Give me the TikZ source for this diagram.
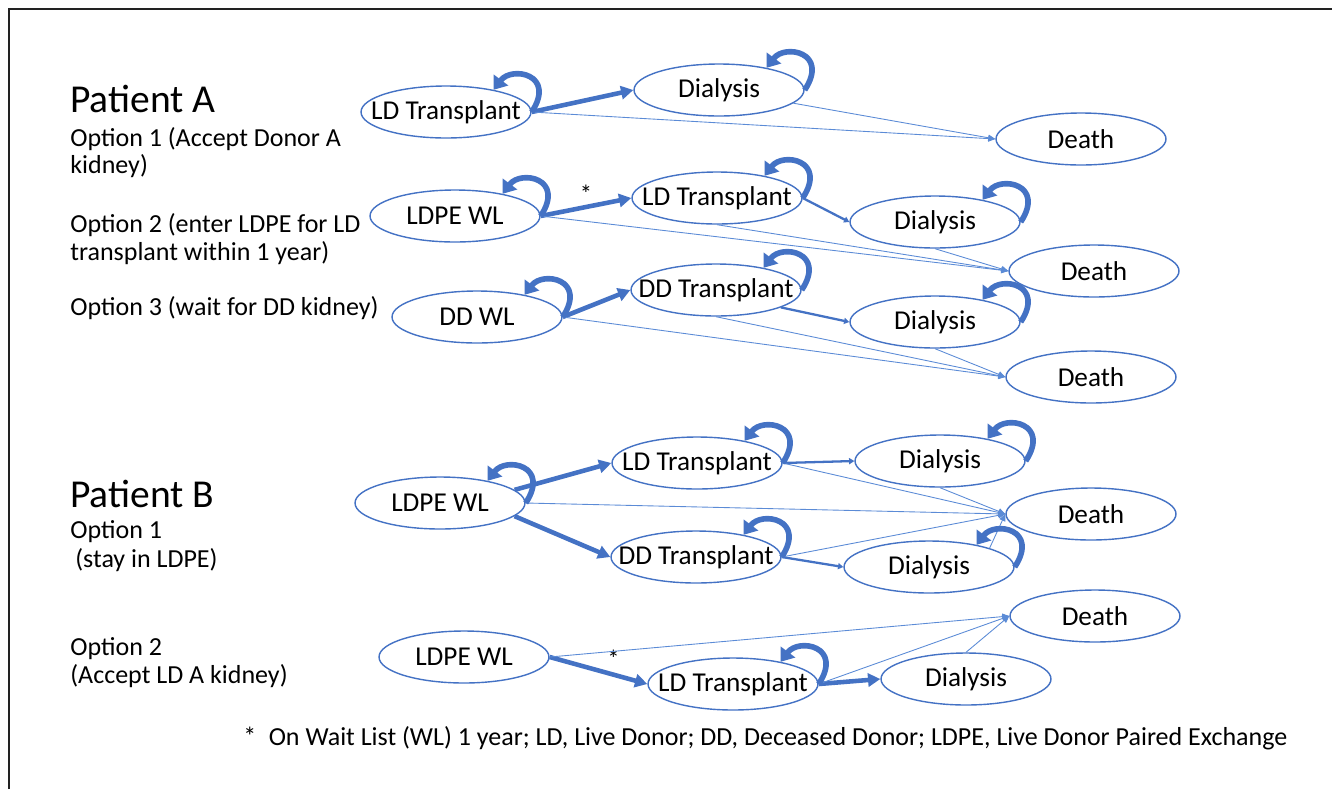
\documentclass[tikz,border=0pt]{standalone}
\usepackage{fontspec}
\setmainfont{Carlito}
\usetikzlibrary{arrows.meta,shapes.geometric}
\definecolor{nodeblue}{HTML}{4472C4}
\definecolor{flowblue}{HTML}{4472C4}
\definecolor{thinblue}{HTML}{5B8BD6}
\definecolor{framegray}{HTML}{222222}

\begin{document}
\begin{tikzpicture}[x=0.02cm,y=-0.02cm,
 stage/.style={ellipse,draw=nodeblue,line width=0.8pt,minimum width=3.4cm,minimum height=1.04cm,inner xsep=-0.35cm,inner ysep=0pt,font=\fontsize{15.5}{17}\selectfont},
 flow/.style={-{Triangle[length=7pt,width=7.5pt]},line width=2.6pt,color=flowblue},
 mid/.style={-{Triangle[length=3pt,width=3.5pt]},line width=1.3pt,color=flowblue},
 minor/.style={-{Triangle[length=4pt,width=3.5pt]},line width=0.5pt,color=thinblue},
 selfloop/.style={-{Triangle[length=7pt,width=10pt]},line width=3.2pt,color=flowblue},
 side/.style={anchor=base west,inner sep=0pt,font=\fontsize{14.8}{16}\selectfont},
 head/.style={anchor=base west,inner sep=0pt,font=\fontsize{22.5}{26}\selectfont},
 star/.style={font=\fontsize{14}{16}\selectfont,inner sep=1pt,text=black}]
 \useasboundingbox (0,0) rectangle (1332,789);
 \draw[framegray,line width=1.4pt] (9,789) -- (9,9) -- (1332,9);

 % left column
 \node[head] (pa) at (70,112) {Patient A};
 \node[side] (pa1a) at (70,146) {Option 1 (Accept Donor A};
 \node[side] (pa1b) at (70,173) {kidney)};
 \node[side] (pa2a) at (70,232) {Option 2 (enter LDPE for LD};
 \node[side] (pa2b) at (70,260) {transplant within 1 year)};
 \node[side] (pa3) at (70,315) {Option 3 (wait for DD kidney)};
 \node[head] (pb) at (70,507) {Patient B};
 \node[side] (pb1a) at (70,538) {Option 1};
 \node[side] (pb1b) at (75,567) {(stay in LDPE)};
 \node[side] (pb2a) at (70,655) {Option 2};
 \node[side] (pb2b) at (70,683) {(Accept LD A kidney)};

 % patient A, option 1
 \node[stage] (a1lt) at (446,112) {LD Transplant};
 \node[stage] (a1dia) at (719,90) {Dialysis};
 \node[stage] (a1death) at (1081,139) {Death};
 % patient A, option 2
 \node[stage] (a2wl) at (455,216) {LDPE WL};
 \node[stage] (a2lt) at (717,198) {LD Transplant};
 \node[stage] (a2dia) at (935,222) {Dialysis};
 \node[stage] (a2death) at (1094,271) {Death};
 % patient A, option 3
 \node[stage] (a3wl) at (477,317) {DD WL};
 \node[stage] (a3dt) at (716,290) {DD Transplant};
 \node[stage] (a3dia) at (935,322) {Dialysis};
 \node[stage] (a3death) at (1091,377) {Death};
 % patient B, option 1
 \node[stage] (b1wl) at (440,503) {LDPE WL};
 \node[stage] (b1lt) at (697,463) {LD Transplant};
 \node[stage] (b1dia) at (940,461) {Dialysis};
 \node[stage] (b1death) at (1091,514) {Death};
 \node[stage] (b1dt) at (696,557) {DD Transplant};
 \node[stage] (b1dia2) at (929,567) {Dialysis};
 % patient B, option 2
 \node[stage] (b2wl) at (464,657) {LDPE WL};
 \node[stage] (b2lt) at (733,684) {LD Transplant};
 \node[stage] (b2dia) at (966,679) {Dialysis};
 \node[stage] (b2death) at (1095,616) {Death};

 \draw[flow] (a1lt.east) -- (a1dia.west);
 \draw[minor] (a1lt.east) -- (a1death.west);
 \draw[minor] (a1dia) -- (a1death.west);

 \draw[flow] (a2wl.east) -- node[above,star] {*} (a2lt.west);
 \draw[minor] (a2wl.east) -- (a2death.west);
 \draw[mid] (a2lt.east) -- (a2dia.west);
 \draw[minor] (a2lt.south) -- (a2death.west);
 \draw[minor] (a2dia.south) -- (a2death.west);

 \draw[flow] (a3wl.east) -- (a3dt.west);
 \draw[minor] (a3wl.east) -- (a3death.west);
 \draw[mid] (a3dt.-15) -- (a3dia.west);
 \draw[minor] (a3dt.south) -- (a3death.west);
 \draw[minor] (a3dia.south) -- (a3death.west);

 \draw[flow] (b1wl.10) -- (b1lt.west);
 \draw[flow] (b1wl.-10) -- (b1dt.west);
 \draw[minor] (b1wl.east) -- (b1death.west);
 \draw[mid] (b1lt.east) -- (b1dia.west);
 \draw[minor] (b1lt.east) -- (b1death.west);
 \draw[minor] (b1dia.south) -- (b1death.west);
 \draw[mid] (b1dt.east) -- (b1dia2.west);
 \draw[minor] (b1dt.east) -- (b1death.west);
 \draw[minor] (b1dia2.north east) -- (b1death.west);

 \draw[flow] (b2wl.east) -- node[above right,star,pos=.55] {*} (b2lt.west);
 \draw[minor] (b2wl.east) -- (b2death.west);
 \draw[flow] (b2lt.east) -- (b2dia.west);
 \draw[minor] (b2lt.east) -- (b2death.west);
 \draw[minor] (b2dia.north) -- (b2death.west);

 % staying in the same state
 \foreach \n in {a1lt,a1dia,a2wl,a2lt,a2dia,a3wl,a3dt,a3dia,b1wl,b1lt,b1dia,b1dt,b1dia2,b2lt}
  \draw[selfloop] (\n.east) .. controls +(25,-38) and +(18,-24) .. (\n.25);

 \node[anchor=base west,inner sep=0pt,font=\fontsize{14.8}{16}\selectfont] (note) at (243,745)
  {*\hspace{0.25cm}On Wait List (WL) 1 year; LD, Live Donor; DD, Deceased Donor; LDPE, Live Donor Paired Exchange};
\end{tikzpicture}
\end{document}
